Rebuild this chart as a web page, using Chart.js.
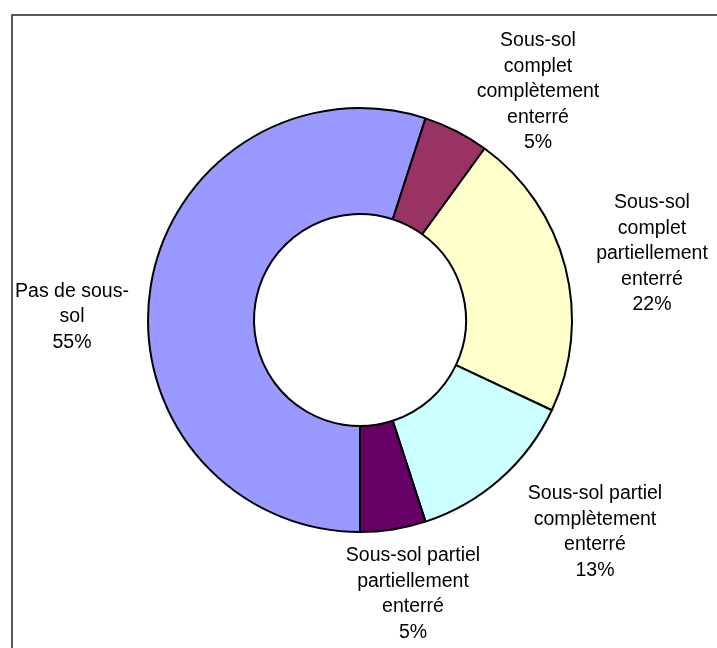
<!DOCTYPE html>
<html>
<head>
<meta charset="utf-8">
<script src="https://cdn.jsdelivr.net/npm/chart.js@4.4.0/dist/chart.umd.min.js"></script>
<style>
  html, body { margin: 0; padding: 0; background: #fff; }
  canvas { display: block; }
</style>
</head>
<body>
<canvas id="mychart" width="717" height="648"></canvas>
<script>
// category names, already split the way they wrap
const categories = [
    ['Pas de sous-', 'sol'],
    ['Sous-sol', 'complet', 'complètement', 'enterré'],
    ['Sous-sol', 'complet', 'partiellement', 'enterré'],
    ['Sous-sol partiel', 'complètement', 'enterré'],
    ['Sous-sol partiel', 'partiellement', 'enterré']
];
const shares = [55, 5, 22, 13, 5];
const colors = ['#9999FF', '#993366', '#FFFFCC', '#CCFFFF', '#660066'];

// where each label block sits, relative to the doughnut centre
const labelSpots = [[-288, -3], [178, -228], [292, -66], [235, 212], [53, 274]];

const frame = {
    id: 'frame',
    beforeDraw(chart) {
        let c = chart.ctx;
        c.save();
        c.strokeStyle = '#222';
        c.lineWidth = 1.5;
        c.beginPath();
        c.moveTo(12, chart.height);
        c.lineTo(12, 15);
        c.lineTo(chart.width, 15);
        c.stroke();
        c.restore();
    }
};

const sliceLabels = {
    id: 'sliceLabels',
    afterDatasetsDraw(chart) {
        let c = chart.ctx;
        let arcs = chart.getDatasetMeta(0).data;
        c.save();
        c.fillStyle = '#000';
        c.font = '19.5px "Liberation Sans", Arial, sans-serif';
        c.textAlign = 'center';
        c.textBaseline = 'middle';
        arcs.forEach((arc, i) => {
            let lines = categories[i].concat([shares[i] + '%']);
            let lh = 25.5;
            let x = arc.x + labelSpots[i][0];
            let y = arc.y + labelSpots[i][1] - (lines.length - 1) * lh / 2;
            lines.forEach((t, k) => c.fillText(t, x, y + k * lh));
        });
        c.restore();
    }
};

new Chart(document.querySelector('#mychart'), {
    type: 'doughnut',
    data: {
        labels: categories,
        datasets: [{
            data: shares,
            backgroundColor: colors,
            borderColor: '#000',
            borderWidth: 2,
            borderAlign: 'center'
        }]
    },
    options: {
        responsive: false,
        devicePixelRatio: 1,
        animation: false,
        rotation: 180,
        cutout: '50%',
        layout: { padding: { left: 147, right: 144, top: 107, bottom: 115 } },
        plugins: {
            legend: { display: false },
            tooltip: { enabled: false }
        }
    },
    plugins: [frame, sliceLabels]
});
</script>
</body>
</html>
